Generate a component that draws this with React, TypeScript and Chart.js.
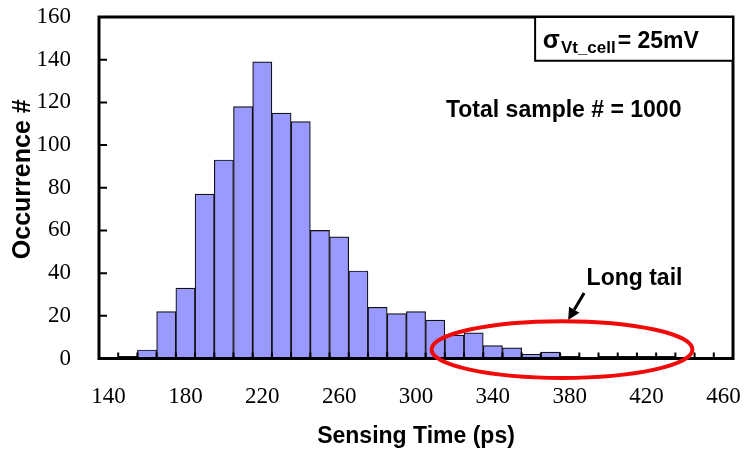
import React, { useEffect, useRef } from "react";
import { Chart, registerables } from "chart.js";

Chart.register(...registerables);

// Histogram bins (ps, bin centers) and counts
const binCenters = [140, 150, 160, 170, 180, 190, 200, 210, 220, 230, 240, 250, 260, 270, 280, 290, 300, 310, 320, 330, 340, 350, 360, 370, 380, 390, 400, 410, 420, 430, 440, 450, 460];
const counts = [0, 1, 4, 22, 33, 77, 93, 118, 139, 115, 111, 60, 57, 41, 24, 21, 22, 18, 11, 12, 6, 5, 2, 3, 1, 0, 1, 1, 1, 1, 0, 0, 0];
const xTickLabels = [140, 180, 220, 260, 300, 340, 380, 420, 460];
const xBinEdges = [145, 155, 165, 175, 185, 195, 205, 215, 225, 235, 245, 255, 265, 275, 285, 295, 305, 315, 325, 335, 345, 355, 365, 375, 385, 395, 405, 415, 425, 435, 445, 455];
const yTickValues = [0, 20, 40, 60, 80, 100, 120, 140, 160];
const yTitle = "Occurrence #";

// Annotation anchors in data units
const ellipseSpec = { cx: 376, cy: 4.2, rx: 67.9, ry: 13.3 };
const boxSpec = { left: 362, bottom: 139.5 };
const sigmaAnchor = { x: 366, y: 145.5 };
const totalAnchor = { x: 315.6, y: 113.3 };
const longTailAnchor = { x: 388.8, y: 34.4 };
const arrowFrom = { x: 387.5, y: 30.7 };
const arrowTo = { x: 379.2, y: 18.0 };

const SANS = '"Liberation Sans", Arial, sans-serif';
const SERIF = '"Liberation Serif", "Times New Roman", serif';

const decor = {
  id: "decor",
  afterDraw(chart: any) {
    const { ctx, chartArea: a, scales } = chart;
    const x = scales.x;
    const y = scales.y;
    const px = (v: number) => x.getPixelForValue(v);
    const py = (v: number) => y.getPixelForValue(v);
    ctx.save();

    // tick marks (inside)
    ctx.strokeStyle = "#000";
    ctx.lineWidth = 2;
    ctx.beginPath();
    for (const v of xBinEdges) {
      const p = px(v);
      ctx.moveTo(p, a.bottom);
      ctx.lineTo(p, a.bottom - 6);
    }
    for (const v of yTickValues) {
      const p = py(v);
      ctx.moveTo(a.left, p);
      ctx.lineTo(a.left + 8, p);
    }
    ctx.stroke();

    // frame
    ctx.lineWidth = 3;
    ctx.strokeRect(a.left, a.top, a.right - a.left, a.bottom - a.top);

    // y-axis title
    ctx.save();
    ctx.fillStyle = "#000";
    ctx.font = `bold 25px ${SANS}`;
    ctx.textAlign = "center";
    ctx.textBaseline = "middle";
    ctx.translate(23, (a.top + a.bottom) / 2 - 8.5);
    ctx.rotate(-Math.PI / 2);
    ctx.fillText(yTitle, 0, 0);
    ctx.restore();

    // sigma box
    const bx = px(boxSpec.left);
    const by = py(boxSpec.bottom);
    ctx.fillStyle = "#fff";
    ctx.fillRect(bx, a.top, a.right - bx, by - a.top);
    ctx.lineWidth = 2;
    ctx.strokeRect(bx, a.top, a.right - bx, by - a.top);

    ctx.fillStyle = "#000";
    ctx.textBaseline = "alphabetic";
    ctx.textAlign = "left";
    let tx = px(sigmaAnchor.x);
    const ty = py(sigmaAnchor.y);
    ctx.font = `bold 25px ${SANS}`;
    ctx.fillText("σ", tx, ty);
    tx += ctx.measureText("σ").width + 1;
    ctx.font = `bold 17px ${SANS}`;
    ctx.fillText("Vt_cell", tx, ty + 5.5);
    tx += ctx.measureText("Vt_cell").width + 2;
    ctx.font = `bold 23px ${SANS}`;
    ctx.fillText("= 25mV", tx, ty);

    // Total sample text
    ctx.font = `bold 23px ${SANS}`;
    ctx.fillText("Total sample # = 1000", px(totalAnchor.x), py(totalAnchor.y));

    // Long tail
    ctx.fillText("Long tail", px(longTailAnchor.x), py(longTailAnchor.y));

    // arrow
    const x1 = px(arrowFrom.x), y1 = py(arrowFrom.y);
    const x2 = px(arrowTo.x), y2 = py(arrowTo.y);
    const dx = x2 - x1, dy = y2 - y1;
    const len = Math.hypot(dx, dy);
    const ux = dx / len, uy = dy / len;
    const head = 12, hw = 6;
    ctx.lineWidth = 3;
    ctx.beginPath();
    ctx.moveTo(x1, y1);
    ctx.lineTo(x2 - ux * head, y2 - uy * head);
    ctx.stroke();
    ctx.beginPath();
    ctx.moveTo(x2, y2);
    ctx.lineTo(x2 - ux * head - uy * hw, y2 - uy * head + ux * hw);
    ctx.lineTo(x2 - ux * head + uy * hw, y2 - uy * head - ux * hw);
    ctx.closePath();
    ctx.fill();

    // red ellipse
    const ecx = px(ellipseSpec.cx), ecy = py(ellipseSpec.cy);
    const erx = px(ellipseSpec.cx + ellipseSpec.rx) - ecx;
    const ery = ecy - py(ellipseSpec.cy + ellipseSpec.ry);
    ctx.strokeStyle = "rgb(240,10,10)";
    ctx.lineWidth = 4;
    ctx.beginPath();
    ctx.ellipse(ecx, ecy, erx, ery, 0, 0, Math.PI * 2);
    ctx.stroke();

    ctx.restore();
  },
};

export default function App() {
  const ref = useRef<HTMLCanvasElement>(null);
  useEffect(() => {
    const chart = new Chart(ref.current as HTMLCanvasElement, {
      type: "bar",
      data: {
        datasets: [
          {
            data: binCenters.map((c, i) => ({ x: c, y: counts[i] })),
            backgroundColor: "rgb(153,153,255)",
            borderColor: "#111",
            borderWidth: 1.2,
            borderSkipped: "start",
            barPercentage: 1,
            categoryPercentage: 1,
          } as any,
        ],
      },
      options: {
        responsive: false,
        animation: false,
        events: [],
        layout: { padding: { top: 17, right: 12, left: 0, bottom: 0 } },
        plugins: { legend: { display: false }, tooltip: { enabled: false } },
        scales: {
          x: {
            type: "linear",
            min: 135,
            max: 465,
            offset: false,
            grid: { display: false },
            border: { display: false },
            afterBuildTicks: (s: any) => {
              s.ticks = xTickLabels.map((v) => ({ value: v }));
            },
            ticks: {
              padding: 17,
              autoSkip: false,
              maxRotation: 0,
              color: "#000",
              font: { family: SERIF, size: 23 },
            },
            title: {
              display: true,
              text: "Sensing Time (ps)",
              color: "#000",
              font: { family: SANS, size: 23, weight: "bold" },
              padding: { top: 0, bottom: 3 },
            },
            afterFit: (s: any) => {
              s.height = 94.5;
              s.paddingLeft = 0;
              s.paddingRight = 0;
            },
          },
          y: {
            min: 0,
            max: 160,
            grid: { display: false },
            border: { display: false },
            afterBuildTicks: (s: any) => {
              s.ticks = yTickValues.map((v) => ({ value: v }));
            },
            ticks: {
              padding: 20,
              color: "#000",
              font: { family: SERIF, size: 23 },
            },
            title: { display: false },
            afterFit: (s: any) => {
              s.width = 99;
              s.paddingTop = 0;
              s.paddingBottom = 0;
            },
          },
        },
      } as any,
      plugins: [decor],
    });
    return () => chart.destroy();
  }, []);

  return (
    <div style={{ position: "absolute", left: 0, top: 0, width: 745, height: 453, background: "#fff" }}>
      <canvas ref={ref} width={745} height={453} />
    </div>
  );
}
